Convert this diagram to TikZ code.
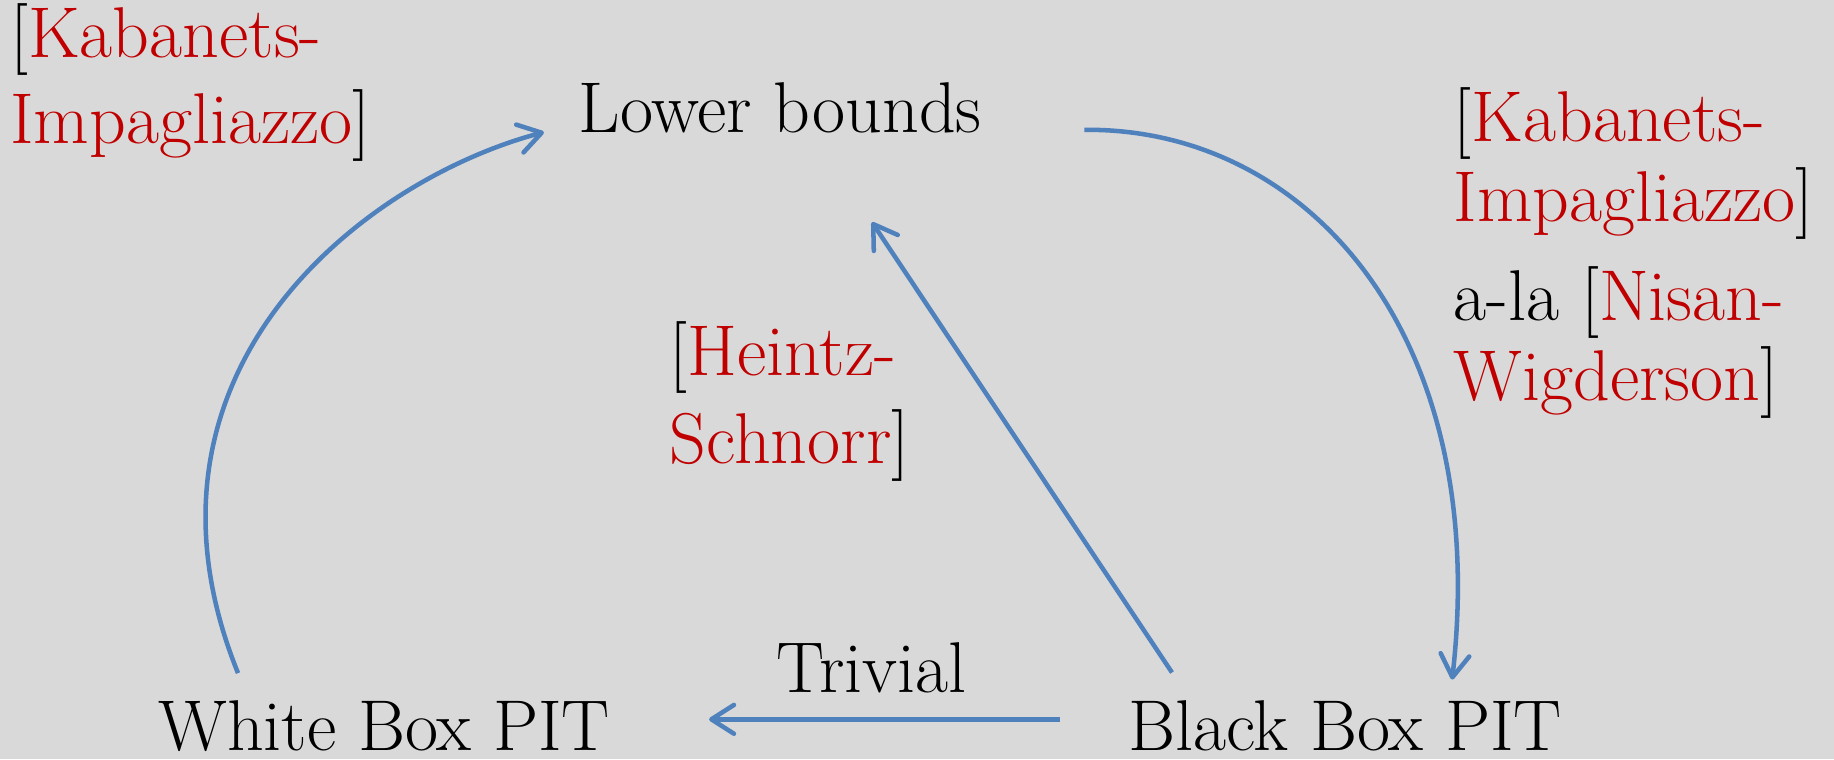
\documentclass[tikz,border=0pt]{standalone}
\usepackage{xcolor}
\usepackage{tikz}
\usetikzlibrary{arrows.meta}
\definecolor{pitbg}{HTML}{D9D9D9}
\definecolor{pitblue}{HTML}{4F81BD}
\definecolor{pitred}{HTML}{C00000}
\newcommand{\au}[1]{\textcolor{pitred}{#1}}
\tikzset{
  lbl/.style={inner sep=2pt,font=\fontsize{17.5}{21}\selectfont},
  cite/.style={lbl,inner sep=0pt,align=left,anchor=north west},
  ar/.style={-{Straight Barb[length=5.5pt,width=7pt,round]},draw=pitblue,line width=1.1pt},
}

\begin{document}
\begin{tikzpicture}
  \fill[pitbg] (0,0) rectangle (15.68,6.49);
  \useasboundingbox (0,0) rectangle (15.68,6.49);
  % the three statements
  \node[lbl,anchor=base] (lower) at (6.67,5.36) {Lower bounds};
  \node[lbl,anchor=base] (white) at (3.285,0.07) {White Box PIT};
  \node[lbl,anchor=base] (black) at (11.50,0.07) {Black Box PIT};
  % references
  \node[cite] (kiL) at (0.08,6.465) {[\au{Kabanets-}\\\au{Impagliazzo}]};
  \node[cite,font=\fontsize{17.5}{19.5}\selectfont] (kiR) at (12.42,5.75)
    {[\au{Kabanets-}\\\au{Impagliazzo}]\\[4.5pt]a-la [\au{Nisan-}\\\au{Wigderson}]};
  \node[cite,font=\fontsize{17.5}{21.3}\selectfont] (hs) at (5.72,3.745) {[\au{Heintz-}\\\au{Schnorr}]};
  \node[lbl,anchor=base] (triv) at (7.45,0.57) {Trivial};
  % implications
  \draw[ar] ([shift={(-0.51,0.27)}]black.base west) -- ([shift={(0.77,0.27)}]white.base east);
  \draw[ar] ([shift={(-1.48,0.67)}]black.base) -- ([shift={(0.785,-0.77)}]lower.base);
  \draw[ar] ([shift={(-1.25,0.665)}]white.base) .. controls +(-1.04,2.57) and +(-1.55,-0.41) .. ([xshift=-20.2mm]lower.base);
  \draw[ar] ([shift={(2.60,0.02)}]lower.base) .. controls +(1.93,0.02) and +(0.335,2.92) .. ([shift={(0.915,0.61)}]black.base);
\end{tikzpicture}
\end{document}
